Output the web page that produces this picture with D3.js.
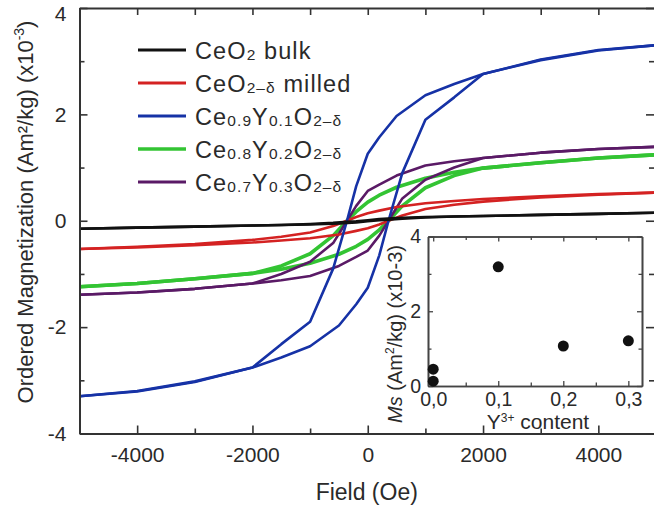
<!DOCTYPE html>
<html>
<head>
<meta charset="utf-8">
<script src="https://cdn.jsdelivr.net/npm/d3@7"></script>
<style>
  html, body { margin: 0; padding: 0; background: #fff; }
  svg { display: block; font-family: "Liberation Sans", Arial, Helvetica, sans-serif; }
</style>
</head>
<body>
<svg id="chart" width="654" height="510"></svg>
<script>
// ---------------- data ----------------
// descending branch (from +5000 Oe to -5000 Oe)
const fieldsDown = [5000, 4000, 3000, 2000, 1500, 1000, 500, 200, 0, -200, -360, -600, -1000, -1500, -2000, -3000, -4000, -5000];
// ascending branch (from -5000 Oe to +5000 Oe)
const fieldsUp = [-5000, -4000, -3000, -2000, -1500, -1000, -500, -200, 0, 200, 360, 600, 1000, 1500, 2000, 3000, 4000, 5000];

const bulkDown   = [0.15, 0.13, 0.11, 0.09, 0.08, 0.07, 0.05, 0.03, 0.01, -0.01, -0.02, -0.04, -0.06, -0.08, -0.09, -0.11, -0.13, -0.15];
const bulkUp     = [-0.15, -0.13, -0.11, -0.09, -0.08, -0.07, -0.05, -0.03, -0.01, 0.01, 0.02, 0.04, 0.06, 0.08, 0.09, 0.11, 0.13, 0.15];
const milledDown = [0.53, 0.50, 0.46, 0.41, 0.37, 0.33, 0.26, 0.19, 0.14, 0.07, 0.00, -0.10, -0.22, -0.30, -0.36, -0.44, -0.49, -0.53];
const milledUp   = [-0.53, -0.50, -0.46, -0.41, -0.37, -0.33, -0.26, -0.19, -0.14, -0.07, 0.00, 0.10, 0.22, 0.30, 0.36, 0.44, 0.49, 0.53];
const y01Down    = [3.30, 3.20, 3.02, 2.76, 2.57, 2.36, 1.97, 1.57, 1.26, 0.65, 0.00, -0.90, -1.90, -2.32, -2.76, -3.03, -3.21, -3.30];
const y01Up      = [-3.30, -3.20, -3.02, -2.76, -2.57, -2.36, -1.97, -1.57, -1.26, -0.65, 0.00, 0.90, 1.90, 2.32, 2.76, 3.03, 3.21, 3.30];
const y02Down    = [1.24, 1.18, 1.09, 0.99, 0.91, 0.80, 0.63, 0.48, 0.35, 0.17, 0.00, -0.28, -0.62, -0.85, -0.99, -1.09, -1.18, -1.24];
const y02Up      = [-1.24, -1.18, -1.09, -0.99, -0.91, -0.80, -0.63, -0.48, -0.35, -0.17, 0.00, 0.28, 0.62, 0.85, 0.99, 1.09, 1.18, 1.24];
const y03Down    = [1.39, 1.35, 1.28, 1.18, 1.12, 1.04, 0.85, 0.68, 0.56, 0.28, 0.00, -0.42, -0.77, -1.00, -1.18, -1.28, -1.35, -1.39];
const y03Up      = [-1.39, -1.35, -1.28, -1.18, -1.12, -1.04, -0.85, -0.68, -0.56, -0.28, 0.00, 0.42, 0.77, 1.00, 1.18, 1.28, 1.35, 1.39];

const seriesKeys   = ["bulk", "milled", "y01", "y02", "y03"];
const seriesColors = ["#111111", "#d42222", "#1632a6", "#33c433", "#5a1a66"];

// tick values / labels
const mainXMajor = [-4000, -2000, 0, 2000, 4000];
const mainXMinor = [-5000, -3000, -1000, 1000, 3000, 5000];
const mainYMajor = [-4, -2, 0, 2, 4];
const mainYMinor = [-3, -1, 1, 3];

// inset: saturation magnetization vs Y3+ content
const insetY3 = [0.0, 0.0, 0.1, 0.2, 0.3];
const insetMs = [0.13, 0.45, 3.19, 1.07, 1.21];
const insetXMajor = [0.0, 0.1, 0.2, 0.3];
const insetXLabels = ["0,0", "0,1", "0,2", "0,3"];
const insetXMinor = [0.05, 0.15, 0.25];
const insetYMajor = [0, 2, 4];
const insetYMinor = [1, 3];

// ---------------- drawing ----------------
const svg = d3.select("#chart");
const axisColor = "#333";
const textColor = "#2a2a2a";

const x = d3.scaleLinear().domain([-5000, 5000]).range([79.5, 656]);
const y = d3.scaleLinear().domain([-4, 4]).range([433.5, 8]);

const branches = {
  bulk:   [[fieldsDown, bulkDown],   [fieldsUp, bulkUp]],
  milled: [[fieldsDown, milledDown], [fieldsUp, milledUp]],
  y01:    [[fieldsDown, y01Down],    [fieldsUp, y01Up]],
  y02:    [[fieldsDown, y02Down],    [fieldsUp, y02Up]],
  y03:    [[fieldsDown, y03Down],    [fieldsUp, y03Up]]
};

svg.append("defs").append("clipPath").attr("id", "plotclip")
  .append("rect").attr("x", x(-5000)).attr("y", y(4))
  .attr("width", x(5000) - x(-5000)).attr("height", y(-4) - y(4));

const line = d3.line().x(d => x(d[0])).y(d => y(d[1]));
const curves = svg.append("g").attr("clip-path", "url(#plotclip)");
const drawOrder = ["y02", "y03", "milled", "y01", "bulk"];
const widths = { bulk: 2.6, milled: 2.6, y01: 2.6, y02: 3.6, y03: 2.6 };
drawOrder.forEach(k => {
  const color = seriesColors[seriesKeys.indexOf(k)];
  branches[k].forEach(([fs, ms]) => {
    curves.append("path")
      .datum(fs.map((f, i) => [f, ms[i]]))
      .attr("d", line)
      .attr("fill", "none")
      .attr("stroke", color)
      .attr("stroke-width", widths[k])
      .attr("stroke-linejoin", "round")
      .attr("stroke-linecap", "round");
  });
});

// ---- main axes ----
function styleAxis(g, fs) {
  g.attr("color", axisColor).attr("font-size", fs)
   .attr("font-family", "'Liberation Sans', Arial, sans-serif");
  g.selectAll(".domain").attr("stroke-width", 2);
  g.selectAll(".tick line").attr("stroke-width", 1.6);
  g.selectAll(".tick text").attr("fill", textColor);
}
const fmt = d => String(d);

// bottom
svg.append("g").attr("transform", `translate(0,${y(-4)})`)
  .call(d3.axisBottom(x).tickValues(mainXMajor).tickFormat(fmt).tickSizeInner(-8).tickSizeOuter(0).tickPadding(13.5))
  .call(g => styleAxis(g, 21));
svg.append("g").attr("transform", `translate(0,${y(-4)})`)
  .call(d3.axisBottom(x).tickValues(mainXMinor).tickFormat("").tickSizeInner(-5).tickSizeOuter(0))
  .call(g => styleAxis(g, 21));
// top
svg.append("g").attr("transform", `translate(0,${y(4)})`)
  .call(d3.axisTop(x).tickValues(mainXMajor.concat(mainXMinor)).tickFormat("").tickSizeInner(-7).tickSizeOuter(0))
  .call(g => styleAxis(g, 21));
// left
svg.append("g").attr("transform", `translate(${x(-5000)},0)`)
  .call(d3.axisLeft(y).tickValues(mainYMajor).tickFormat(fmt).tickSizeInner(-8).tickSizeOuter(0).tickPadding(13))
  .call(g => styleAxis(g, 21))
  .call(g => g.selectAll(".tick text").filter(d => d === 4).attr("dy", "0.58em"));
svg.append("g").attr("transform", `translate(${x(-5000)},0)`)
  .call(d3.axisLeft(y).tickValues(mainYMinor).tickFormat("").tickSizeInner(-5).tickSizeOuter(0))
  .call(g => styleAxis(g, 21));
// right
svg.append("g").attr("transform", `translate(${x(5000)},0)`)
  .call(d3.axisRight(y).tickValues(mainYMajor).tickFormat("").tickSizeInner(-10).tickSizeOuter(0))
  .call(g => styleAxis(g, 21));
svg.append("g").attr("transform", `translate(${x(5000)},0)`)
  .call(d3.axisRight(y).tickValues(mainYMinor).tickFormat("").tickSizeInner(-7).tickSizeOuter(0))
  .call(g => styleAxis(g, 21));

// axis titles
svg.append("text").attr("x", (x(-5000) + x(5000)) / 2 - 1).attr("y", 500)
  .attr("text-anchor", "middle").attr("font-size", 23).attr("fill", textColor)
  .text("Field (Oe)");

const yt = svg.append("text")
  .attr("transform", "translate(33,212) rotate(-90)")
  .attr("text-anchor", "middle").attr("font-size", 22).attr("fill", textColor);
yt.append("tspan").text("Ordered Magnetization (Am\u00B2/kg) (x10");
yt.append("tspan").attr("font-size", 14).attr("dy", -9).text("-3");
yt.append("tspan").attr("dy", 9).text(")");

// ---- legend ----
const legendParts = [
  [["CeO", 0], ["2", 1], [" bulk", 0]],
  [["CeO", 0], ["2\u2013\u03B4", 1], [" milled", 0]],
  [["Ce", 0], ["0.9", 1], ["Y", 0], ["0.1", 1], ["O", 0], ["2\u2013\u03B4", 1]],
  [["Ce", 0], ["0.8", 1], ["Y", 0], ["0.2", 1], ["O", 0], ["2\u2013\u03B4", 1]],
  [["Ce", 0], ["0.7", 1], ["Y", 0], ["0.3", 1], ["O", 0], ["2\u2013\u03B4", 1]]
];
const legendY0 = 50, legendStep = 33;
seriesKeys.forEach((k, i) => {
  const ly = legendY0 + i * legendStep;
  svg.append("line").attr("x1", 138).attr("x2", 186).attr("y1", ly).attr("y2", ly)
    .attr("stroke", seriesColors[i]).attr("stroke-width", k === "y02" ? 3.6 : 2.8);
  const t = svg.append("text").attr("x", 195).attr("y", ly + 8.5)
    .attr("font-size", 23.5).attr("fill", textColor).attr("letter-spacing", 1.1);
  let shifted = false;
  legendParts[i].forEach(([s, sub]) => {
    const ts = t.append("tspan").text(s);
    if (sub) {
      ts.attr("font-size", 15.5);
      if (!shifted) { ts.attr("dy", 1.5); shifted = true; }
    } else if (shifted) {
      ts.attr("dy", -1.5); shifted = false;
    }
  });
});

// ---------------- inset ----------------
const ix = d3.scaleLinear().domain([-0.008, 0.321]).range([428, 642]);
const iy = d3.scaleLinear().domain([0, 4]).range([386, 236.5]);

svg.append("rect").attr("x", ix.range()[0]).attr("y", iy.range()[1])
  .attr("width", ix.range()[1] - ix.range()[0]).attr("height", iy.range()[0] - iy.range()[1])
  .attr("fill", "#fff").attr("stroke", "none");

function styleInset(g) {
  g.attr("color", "#444").attr("font-size", 19.5)
   .attr("font-family", "'Liberation Sans', Arial, sans-serif");
  g.selectAll(".domain").attr("stroke-width", 1.6);
  g.selectAll(".tick line").attr("stroke-width", 1.3);
  g.selectAll(".tick text").attr("fill", textColor);
}
// bottom
svg.append("g").attr("transform", `translate(0,${iy(0)})`)
  .call(d3.axisBottom(ix).tickValues(insetXMajor).tickFormat((d, i) => insetXLabels[i]).tickSizeInner(-5).tickSizeOuter(0).tickPadding(6))
  .call(styleInset);
svg.append("g").attr("transform", `translate(0,${iy(0)})`)
  .call(d3.axisBottom(ix).tickValues(insetXMinor).tickFormat("").tickSizeInner(-3.5).tickSizeOuter(0))
  .call(styleInset);
// top
svg.append("g").attr("transform", `translate(0,${iy(4)})`)
  .call(d3.axisTop(ix).tickValues(insetXMajor).tickFormat("").tickSizeInner(-5).tickSizeOuter(0))
  .call(styleInset);
svg.append("g").attr("transform", `translate(0,${iy(4)})`)
  .call(d3.axisTop(ix).tickValues(insetXMinor).tickFormat("").tickSizeInner(-3.5).tickSizeOuter(0))
  .call(styleInset);
// left
svg.append("g").attr("transform", `translate(${ix.range()[0]},0)`)
  .call(d3.axisLeft(iy).tickValues(insetYMajor).tickFormat(fmt).tickSizeInner(-5).tickSizeOuter(0).tickPadding(7))
  .call(styleInset);
svg.append("g").attr("transform", `translate(${ix.range()[0]},0)`)
  .call(d3.axisLeft(iy).tickValues(insetYMinor).tickFormat("").tickSizeInner(-3.5).tickSizeOuter(0))
  .call(styleInset);
// right
svg.append("g").attr("transform", `translate(${ix.range()[1]},0)`)
  .call(d3.axisRight(iy).tickValues(insetYMajor).tickFormat("").tickSizeInner(-5).tickSizeOuter(0))
  .call(styleInset);
svg.append("g").attr("transform", `translate(${ix.range()[1]},0)`)
  .call(d3.axisRight(iy).tickValues(insetYMinor).tickFormat("").tickSizeInner(-3.5).tickSizeOuter(0))
  .call(styleInset);

// points
svg.append("g").selectAll("circle")
  .data(insetY3.map((v, i) => [v, insetMs[i]]))
  .join("circle")
  .attr("cx", d => ix(d[0])).attr("cy", d => iy(d[1])).attr("r", 5.5)
  .attr("fill", "#111");

// inset titles
const ixt = svg.append("text").attr("x", 538).attr("y", 429)
  .attr("text-anchor", "middle").attr("font-size", 21).attr("fill", textColor);
ixt.append("tspan").text("Y");
ixt.append("tspan").attr("font-size", 12).attr("dy", -7.5).text("3+");
ixt.append("tspan").attr("dy", 7.5).text(" content");

const iyt = svg.append("text")
  .attr("transform", "translate(402,334) rotate(-90)")
  .attr("text-anchor", "middle").attr("font-size", 20).attr("fill", textColor);
iyt.append("tspan").attr("font-style", "italic").text("Ms");
iyt.append("tspan").text(" (Am");
iyt.append("tspan").attr("font-size", 12).attr("dy", -8).text("2");
iyt.append("tspan").attr("dy", 8).text("/kg) (x10-3)");
</script>
</body>
</html>
